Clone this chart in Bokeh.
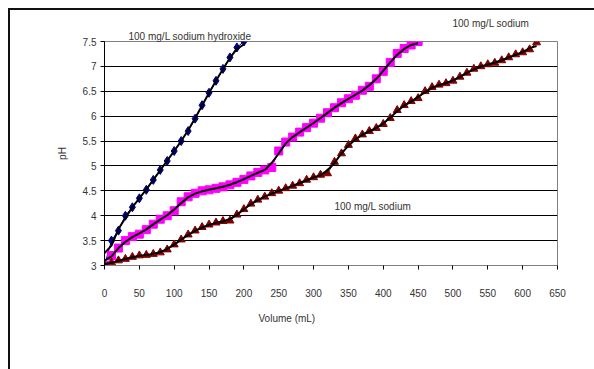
from bokeh.plotting import figure
from bokeh.models import Label, CustomJSTickFormatter, FixedTicker, Title
from bokeh.embed import file_html
from bokeh.resources import INLINE

# ---- data ----
naoh_vol = [0, 10, 20, 30, 40, 50, 60, 70, 80, 90, 100, 110, 120, 130, 140, 150, 160, 170, 180, 190, 200]
naoh_ph = [3.0, 3.5, 3.7, 4.0, 4.17, 4.35, 4.52, 4.72, 4.92, 5.1, 5.3, 5.5, 5.7, 5.95, 6.22, 6.47,
           6.71, 6.95, 7.18, 7.38, 7.5]

mag_vol = list(range(0, 451, 10))
mag_ph = [3.0, 3.2, 3.35, 3.5, 3.58, 3.63, 3.72, 3.83, 3.93, 4.0, 4.1, 4.28, 4.38, 4.45, 4.5, 4.52,
          4.55, 4.58, 4.62, 4.67, 4.73, 4.8, 4.87, 4.92, 4.97, 5.3, 5.48, 5.58, 5.68, 5.77, 5.86,
          5.96, 6.07, 6.17, 6.27, 6.35, 6.42, 6.52, 6.6, 6.75, 6.9, 7.08, 7.26, 7.36, 7.43, 7.5]

red_vol = list(range(0, 621, 10))
red_ph = [3.0, 3.06, 3.1, 3.13, 3.17, 3.2, 3.21, 3.23, 3.26, 3.32, 3.42, 3.52, 3.62, 3.7, 3.77,
          3.82, 3.86, 3.89, 3.9, 4.02, 4.13, 4.24, 4.32, 4.38, 4.45, 4.5, 4.55, 4.6, 4.65, 4.72,
          4.77, 4.82, 4.85, 5.08, 5.25, 5.42, 5.55, 5.63, 5.7, 5.76, 5.84, 5.96, 6.12, 6.22, 6.3,
          6.36, 6.5, 6.58, 6.63, 6.66, 6.71, 6.79, 6.87, 6.95, 7.0, 7.04, 7.07, 7.12, 7.18, 7.24,
          7.28, 7.34, 7.48]

x_ticks = list(range(0, 651, 50))
y_ticks = [3, 3.5, 4, 4.5, 5, 5.5, 6, 6.5, 7, 7.5]

label_naoh = "100 mg/L sodium hydroxide"
label_top = "100 mg/L sodium"
label_mid = "100 mg/L sodium"
x_title = "Volume (mL)"
y_title = "pH"


def smooth(v):
    out = []
    for i in range(len(v)):
        lo, hi = max(0, i - 1), min(len(v), i + 2)
        seg = v[lo:hi]
        out.append(sum(seg) / len(seg))
    return out


FONT = "Liberation Sans"
TXT = "#333333"

p = figure(width=584, height=359, x_range=(0, 650), y_range=(3, 7.5),
           output_backend="svg", toolbar_location=None,
           min_border_left=94, min_border_top=31, min_border_right=39, min_border_bottom=106,
           styles={"margin-left": "8px", "margin-top": "8px", "box-sizing": "content-box",
                   "border-left": "2px solid #111111", "border-top": "2px solid #111111"})
p.background_fill_color = "white"
p.border_fill_color = "white"
p.outline_line_color = "#808080"
p.outline_line_width = 1

p.xgrid.grid_line_color = None
p.ygrid.grid_line_color = "#000000"
p.ygrid.grid_line_width = 1
p.ygrid.ticker = FixedTicker(ticks=y_ticks)

p.xaxis.ticker = FixedTicker(ticks=x_ticks)
p.yaxis.ticker = FixedTicker(ticks=y_ticks)
p.yaxis.formatter = CustomJSTickFormatter(code="return tick.toString();")
p.xaxis.formatter = CustomJSTickFormatter(code="return tick.toString();")

for ax in (p.xaxis, p.yaxis):
    ax.minor_tick_line_color = None
    ax.major_tick_in = 0
    ax.major_tick_out = 4
    ax.major_label_text_font = FONT
    ax.major_label_text_font_size = "10px"
    ax.major_label_text_color = TXT
    ax.axis_label_text_font = FONT
    ax.axis_label_text_font_size = "10px"
    ax.axis_label_text_font_style = "normal"
    ax.axis_label_text_color = TXT
p.yaxis.axis_line_color = "#000000"
p.xaxis.axis_line_color = "#808080"
p.xaxis.major_tick_line_color = "#000000"
p.yaxis.major_tick_line_color = "#000000"
p.xaxis.major_label_standoff = 19
p.yaxis.major_label_standoff = 4
p.yaxis.axis_label = y_title
p.yaxis.axis_label_standoff = 12

# series
p.line(naoh_vol, naoh_ph, line_color="#000080", line_width=1)
p.scatter(naoh_vol, naoh_ph, marker="diamond", size=9, fill_color="#000080", line_color="#000080")

p.line(mag_vol, mag_ph, line_color="#FF00FF", line_width=1)
p.scatter(mag_vol, mag_ph, marker="square", size=8, fill_color="#FF00FF", line_color="#FF00FF")

p.line(red_vol, red_ph, line_color="#800000", line_width=1)
p.scatter(red_vol, red_ph, marker="triangle", size=8, fill_color="#800000", line_color="#800000")

# trend lines
p.line(naoh_vol, smooth(naoh_ph), line_color="black", line_width=2)
p.line(mag_vol, smooth(mag_ph), line_color="black", line_width=2)
p.line(red_vol, smooth(red_ph), line_color="black", line_width=2)

# label inside the plot area
p.add_layout(Label(x=385, y=4.18, text=label_mid, text_align="center", text_baseline="middle",
                   text_font=FONT, text_font_size="10px", text_color=TXT))


def side_title(txt, offset, standoff):
    return Title(text=txt, align="left", offset=offset, standoff=standoff,
                 text_font=FONT, text_font_size="10px", text_font_style="normal",
                 text_color=TXT)


p.add_layout(side_title(label_naoh, 24, 0), "above")
p.add_layout(side_title(label_top, 348, 0), "above")
p.add_layout(side_title(x_title, 154, 22), "below")

open("out.html", "w").write(file_html(p, INLINE))
